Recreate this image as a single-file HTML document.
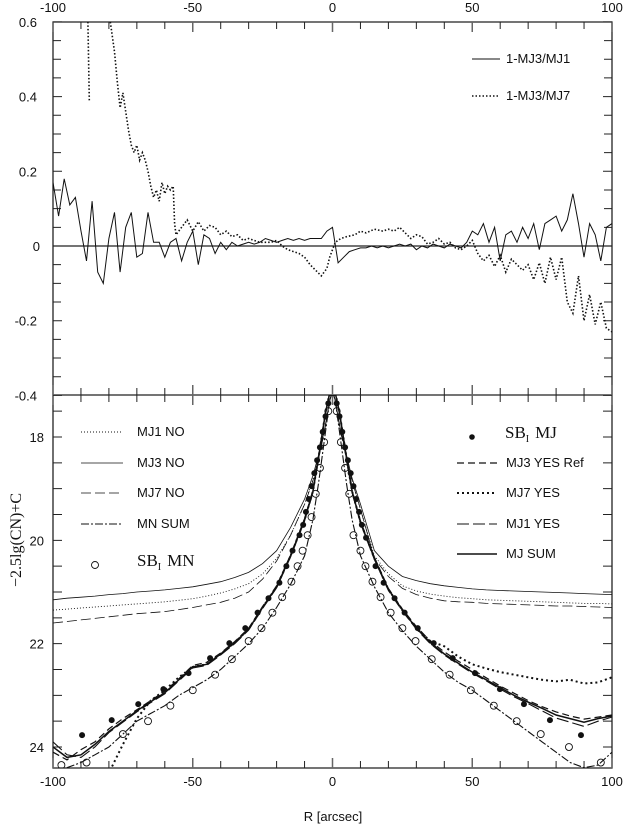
<!DOCTYPE html>
<html><head><meta charset="utf-8"><style>
html,body{margin:0;padding:0;background:#fff;}
svg{display:block;font-family:"Liberation Sans",sans-serif;}
.t{font-size:13px;fill:#111;}
</style></head><body>
<svg id="c" width="624" height="834" viewBox="0 0 624 834">
<defs><clipPath id="cpTop"><rect x="53" y="22" width="559" height="373"/></clipPath>
<clipPath id="cpBot"><rect x="53" y="395" width="559" height="373"/></clipPath></defs>
<g id="axes"></g>
<g id="topSeries" clip-path="url(#cpTop)"></g>
<g id="botSeries" clip-path="url(#cpBot)"></g>
<g id="legend"></g>
</svg>
<script>
// ---------- data ----------
const topTicksX = [-100,-50,0,50,100];
const topTicksY = [0.6,0.4,0.2,0,-0.2,-0.4];
const topTickLabels = ["0.6","0.4","0.2","0","-0.2","-0.4"];
const botTicksY = [18,20,22,24];
// 1-MJ3/MJ1, R from -100 to 100 step 2
const ratio1R = [];
for (let r=-100;r<=100;r+=2) ratio1R.push(r);
const ratio1 = [.17,.08,.18,.11,.13,.04,-.04,.12,-.07,-.1,.02,.09,-.07,.05,.09,-.03,-.02,.09,.01,.01,-.03,.01,.02,-.04,.01,.04,-.05,.03,.02,-.02,.01,-.01,.01,0,.005,.01,.005,.01,.02,.015,.01,.015,.02,.015,.02,.015,.02,.02,.02,.04,.05,-.045,-.03,-.015,-.01,-.005,-.005,0,-.005,0,-.005,0,.005,0,.005,-.01,0,-.005,.005,0,-.005,.005,0,-.005,.01,.04,.03,.06,.01,.05,-.04,.03,.04,.01,.05,.02,.06,-.01,.06,.07,.08,.04,.07,.14,.06,-.03,.06,.03,-.04,.05,.06];
// 1-MJ3/MJ7
const ratio7aR = [-87.5,-87];
const ratio7a = [0.6,0.39];
const ratio7bR = [-79.5,-78,-77,-76,-75,-74,-73,-72,-71,-70,-69,-68,-67,-66,-65,-64,-63,-62,-61,-60,-59,-58,-57,-56.5,-56,-54,-52,-50,-48,-46,-44,-42,-40,-38,-36,-34,-32,-30,-28,-26,-24,-22,-20,-18,-16,-14,-12,-10,-8,-6,-4,-2,-1,0,1,3,5,8,10,12,15,18,20,22,24,26,28,30,32,34,36,38,40,42,44,46,48,50,52,54,56,58,60,62,64,66,68,70,72,74,76,78,80,82,84,86,88,90,92,94,96,98,100];
const ratio7b = [.6,.52,.44,.37,.41,.36,.31,.27,.25,.27,.23,.25,.23,.2,.16,.13,.15,.12,.17,.14,.16,.15,.16,.06,.03,.05,.07,.04,.065,.04,.055,.05,.03,.04,.025,.03,.015,.02,.015,.01,.01,.01,.015,0,-.01,-.015,-.02,-.03,-.05,-.065,-.08,-.06,-.03,-.01,.01,.02,.025,.03,.04,.035,.045,.04,.045,.04,.05,.035,.02,.03,.025,.005,.01,.02,.005,.01,-.005,-.01,0,.015,-.02,-.04,-.025,-.055,-.025,-.07,-.035,-.05,-.065,-.05,-.09,-.045,-.1,-.03,-.09,-.03,-.15,-.18,-.08,-.2,-.13,-.21,-.15,-.22,-.23];
// bottom profiles common R grid
const profR = [-100,-95,-90,-85,-80,-75,-70,-65,-60,-55,-50,-45,-40,-35,-30,-25,-20,-15,-10,-7,-5,-3,-2,-1,0,1,2,3,5,7,10,15,20,25,30,35,40,45,50,55,60,65,70,75,80,85,90,95,100];
const mjSum  = [24.0,24.2,24.15,23.95,23.7,23.5,23.3,23.12,22.95,22.7,22.45,22.4,22.2,21.98,21.72,21.3,20.9,20.3,19.6,19.05,18.4,17.7,17.4,17.15,17.1,17.15,17.4,17.7,18.4,19.05,19.65,20.35,20.95,21.35,21.7,21.98,22.2,22.38,22.55,22.7,22.85,23.0,23.13,23.25,23.38,23.45,23.52,23.45,23.4];
const mj3Yes = [24.1,24.25,24.05,23.9,23.65,23.45,23.28,23.1,22.92,22.68,22.42,22.36,22.18,21.96,21.7,21.28,20.88,20.28,19.58,19.03,18.4,17.7,17.4,17.15,17.1,17.15,17.4,17.7,18.4,19.03,19.63,20.33,20.93,21.33,21.67,21.95,22.16,22.34,22.5,22.66,22.82,22.96,23.1,23.22,23.32,23.4,23.46,23.42,23.38];
const mj1Yes = [23.9,24.15,24.2,24.0,23.72,23.52,23.32,23.14,22.97,22.72,22.47,22.42,22.22,22.0,21.74,21.32,20.92,20.32,19.62,19.07,18.42,17.71,17.41,17.15,17.1,17.15,17.41,17.71,18.42,19.07,19.67,20.37,20.97,21.37,21.72,22.0,22.22,22.4,22.57,22.72,22.88,23.03,23.16,23.3,23.44,23.52,23.6,23.5,23.42];
const mj7Yes = [24.8,24.8,24.8,24.8,24.5,23.95,23.45,23.1,22.9,22.65,22.45,22.4,22.2,21.98,21.72,21.3,20.9,20.3,19.6,19.05,18.4,17.7,17.4,17.15,17.1,17.15,17.4,17.7,18.4,19.05,19.65,20.35,20.95,21.35,21.7,21.95,22.05,22.25,22.4,22.48,22.55,22.6,22.65,22.7,22.73,22.7,22.77,22.75,22.65];
const mnSum  = [24.45,24.4,24.3,24.15,24.0,23.75,23.5,23.35,23.2,23.0,22.85,22.7,22.5,22.25,22.0,21.7,21.3,20.85,20.3,19.6,18.9,18.1,17.7,17.3,17.1,17.3,17.7,18.1,18.9,19.6,20.3,20.9,21.4,21.75,22.05,22.3,22.55,22.75,22.9,23.1,23.3,23.5,23.7,23.9,24.1,24.3,24.4,24.35,24.1];
const mj3No  = [21.15,21.12,21.1,21.08,21.05,21.03,21.0,20.98,20.96,20.93,20.9,20.85,20.8,20.72,20.62,20.45,20.2,19.75,19.2,18.75,18.35,17.9,17.6,17.3,17.1,17.3,17.6,17.9,18.35,18.8,19.3,20.2,20.5,20.7,20.78,20.84,20.88,20.91,20.94,20.96,20.97,20.98,20.99,21.0,21.01,21.02,21.03,21.04,21.05];
const mj1No  = [21.35,21.33,21.31,21.29,21.27,21.25,21.23,21.21,21.19,21.16,21.13,21.08,21.02,20.94,20.84,20.65,20.35,19.9,19.3,18.82,18.4,17.92,17.62,17.3,17.1,17.3,17.62,17.92,18.4,18.85,19.4,20.3,20.65,20.88,20.98,21.04,21.08,21.11,21.13,21.15,21.16,21.17,21.18,21.19,21.2,21.21,21.22,21.22,21.23];
const mj7No  = [21.6,21.57,21.54,21.51,21.48,21.45,21.42,21.4,21.38,21.34,21.3,21.25,21.2,21.12,21.0,20.75,20.4,19.9,19.3,18.85,18.42,17.93,17.63,17.3,17.1,17.3,17.63,17.93,18.42,18.85,19.4,20.35,20.7,20.93,21.05,21.12,21.17,21.19,21.2,21.22,21.23,21.24,21.25,21.26,21.27,21.27,21.28,21.29,21.3];
// surface brightness points
const sbMjR = [-89.6,-79,-69.5,-60.5,-51.5,-43.8,-36.9,-31.2,-26.8,-22.9,-19,-16.5,-14.3,-11.8,-10.5,-9.5,-8.5,-7.5,-6.5,-5.5,-4.5,-3.5,-2.5,-1.5,-0.5,0.5,1.5,2.5,3.5,4.5,5.5,6.5,7.5,8.5,9.5,10.5,12,15.4,18.3,22.2,25.8,30.5,36.2,43,51,59.9,68.5,77.8,88.9];
const sbMj  = [23.77,23.48,23.17,22.88,22.57,22.28,21.99,21.7,21.4,21.12,20.82,20.5,20.2,19.9,19.7,19.45,19.2,18.95,18.7,18.45,18.2,17.9,17.6,17.35,17.15,17.15,17.35,17.6,17.9,18.2,18.45,18.7,18.95,19.2,19.45,19.7,19.95,20.5,20.82,21.12,21.4,21.7,21.99,22.28,22.57,22.88,23.17,23.48,23.77];
const sbMnR = [-97,-88,-75,-66,-58,-50,-42,-36,-30,-25.4,-21.5,-18,-14.7,-12.5,-10.7,-8.9,-7.5,-6,-4.5,-3,-1.5,1.5,3,4.5,6,7.5,10,11.8,14.3,17.2,20.8,25,29.7,35.5,41.9,49.5,57.7,65.9,74.5,84.6,96];
const sbMn  = [24.35,24.3,23.75,23.5,23.2,22.9,22.6,22.3,21.95,21.7,21.4,21.1,20.8,20.5,20.2,19.9,19.55,19.1,18.6,18.1,17.5,17.5,18.1,18.6,19.1,19.9,20.2,20.5,20.8,21.1,21.4,21.7,21.95,22.3,22.6,22.9,23.2,23.5,23.75,24.0,24.3];

// ---------- scales ----------
const X0=53, X1=612;
const xs = r => X0 + (r+100)/200*(X1-X0);
const ysTop = v => 246 - v*373.5;
const ysBot = m => 437 + (m-18)*51.67;
const NS="http://www.w3.org/2000/svg";
function mk(tag, attrs, parent){const e=document.createElementNS(NS,tag);for(const k in attrs)e.setAttribute(k,attrs[k]);parent.appendChild(e);return e;}
const axes=document.getElementById('axes');
const topG=document.getElementById('topSeries');
const botG=document.getElementById('botSeries');
const leg=document.getElementById('legend');
function path(R,V,ys){let d='';for(let i=0;i<R.length;i++){d+=(i?'L':'M')+xs(R[i]).toFixed(1)+' '+ys(V[i]).toFixed(1);}return d;}

// frame
let fr=mk('path',{d:`M${X0} 22 H${X1} V768 H${X0} Z M${X0} 395 H${X1}`,fill:'none',stroke:'#222','stroke-width':1.3},axes);


// x ticks
for(let r=-100;r<=100;r+=10){
  const x=xs(r), maj=r%50===0, L=maj?10:7;
  const tk=mk('path',{d:`M${x} 22 v${L} M${x} 395 v${-L} M${x} 395 v${L} M${x} 768 v${-L}`,stroke:maj?'#666':'#222','stroke-width':maj?1.5:1},axes);
  
  
}
topTicksX.forEach(r=>{
  const t1=mk('text',{x:xs(r),y:12,'text-anchor':'middle',class:'t'},axes);t1.textContent=r;
  
  
  const t2=mk('text',{x:xs(r),y:786,'text-anchor':'middle',class:'t'},axes);t2.textContent=r;
  
  
});
// top y ticks every 0.05
for(let i=0;i<=20;i++){const v=0.6-i*0.05,y=ysTop(v);const L=(i%4===0)?9:8;
  const tk=mk('path',{d:`M${X0} ${y} h${L} M${X1} ${y} h${-L}`,stroke:'#222','stroke-width':1},axes);
  
  }
topTicksY.forEach((v,i)=>{const t=mk('text',{x:37,y:ysTop(v)+5,'text-anchor':'end',class:'t'},axes);t.textContent=topTickLabels[i];
  if(v===0)t.setAttribute('x',40);
  
  });
// bottom y ticks every 0.5
for(let m=17.5;m<=24.25;m+=0.5){const y=ysBot(m);
  const tk=mk('path',{d:`M${X0} ${y} h9 M${X1} ${y} h-9`,stroke:'#222','stroke-width':1},axes);
  
  }
botTicksY.forEach(m=>{const t=mk('text',{x:44,y:ysBot(m)+5,'text-anchor':'end',class:'t'},axes);t.textContent=m;
  
  });
// zero line
const zl=mk('line',{x1:X0,x2:X1,y1:ysTop(0),y2:ysTop(0),stroke:'#222','stroke-width':1.2},axes);


// axis titles
const xt=mk('text',{x:333,y:821,'text-anchor':'middle',class:'t'},axes);xt.textContent='R [arcsec]';


const yt=mk('text',{x:0,y:0,'text-anchor':'middle',transform:'translate(21,540) rotate(-90)','font-family':'"Liberation Serif",serif','font-size':'16px',fill:'#111'},axes);
yt.textContent='\u22122.5lg(CN)+C';



// top series
const s1=mk('path',{d:path(ratio1R,ratio1,ysTop),fill:'none',stroke:'#111','stroke-width':1},topG);


const s7a=mk('path',{d:path(ratio7aR,ratio7a,ysTop),fill:'none',stroke:'#111','stroke-width':1.6,'stroke-dasharray':'1.5 2'},topG);


const s7b=mk('path',{d:path(ratio7bR,ratio7b,ysTop),fill:'none',stroke:'#111','stroke-width':1.6,'stroke-dasharray':'1.5 2'},topG);



// bottom series
const styles={
 mj3No:{sw:0.8,da:''}, mj1No:{sw:0.9,da:'1 2'}, mj7No:{sw:0.8,da:'10 4'},
 mnSum:{sw:1.1,da:'8 2 2 2'}, mjSum:{sw:1.5,da:''}, mj3Yes:{sw:1.2,da:'7 4'},
 mj1Yes:{sw:1.1,da:'12 4'}, mj7Yes:{sw:2,da:'2 3'}
};
const bdata={mj3No,mj1No,mj7No,mnSum,mjSum,mj3Yes,mj1Yes,mj7Yes};
const bnames={mj3No:'mj3-no-line',mj1No:'mj1-no-line',mj7No:'mj7-no-line',mnSum:'mn-sum-line',mjSum:'mj-sum-line',mj3Yes:'mj3-yes-ref-line',mj1Yes:'mj1-yes-line',mj7Yes:'mj7-yes-line'};
for(const k in bdata){const st=styles[k];
  const p=mk('path',{d:path(profR,bdata[k],ysBot),fill:'none',stroke:'#111','stroke-width':st.sw},botG);
  if(st.da)p.setAttribute('stroke-dasharray',st.da);
  
  }
sbMnR.forEach((r,i)=>{const c=mk('circle',{cx:xs(r),cy:ysBot(sbMn[i]),r:3.5,fill:'none',stroke:'#111','stroke-width':0.9},botG);
  
  });
sbMjR.forEach((r,i)=>{const c=mk('circle',{cx:xs(r),cy:ysBot(sbMj[i]),r:3,fill:'#111'},botG);
  
  });

// legends
function legLine(x1,x2,y,sw,da,tx,txt,name){
  const g=mk('g',{},leg);
  
  
  const l=mk('line',{x1:x1,x2:x2,y1:y,y2:y,stroke:'#111','stroke-width':sw},g);
  if(da)l.setAttribute('stroke-dasharray',da);
  const t=mk('text',{x:tx,y:y+4,class:'t'},g);t.textContent=txt;
}
legLine(472,500,59,1,'',506,'1-MJ3/MJ1','legend-mj3-mj1');
legLine(472,500,96,1.6,'1.5 2',506,'1-MJ3/MJ7','legend-mj3-mj7');
legLine(81,123,432,0.9,'1 2',137,'MJ1 NO','legend-mj1-no');
legLine(81,123,463,0.8,'',137,'MJ3 NO','legend-mj3-no');
legLine(81,123,493,0.8,'10 4',137,'MJ7 NO','legend-mj7-no');
legLine(81,123,524,1.1,'8 2 2 2',137,'MN SUM','legend-mn-sum');
legLine(457,497,463,1.2,'7 4',506,'MJ3 YES Ref','legend-mj3-yes-ref');
legLine(457,497,493,2,'2 3',506,'MJ7 YES','legend-mj7-yes');
legLine(457,497,524,1.1,'12 4',506,'MJ1 YES','legend-mj1-yes');
legLine(457,497,554,1.5,'',506,'MJ SUM','legend-mj-sum');
// SB legend entries
const g1=mk('g',{},leg);


mk('circle',{cx:95,cy:565,r:3.5,fill:'none',stroke:'#111','stroke-width':0.9},g1);
const tt1=mk('text',{x:137,y:566,'font-family':'"Liberation Serif",serif','font-size':'17px',fill:'#111'},g1);
tt1.innerHTML='SB<tspan font-size="10" dy="4">I</tspan><tspan dy="-4" dx="6">MN</tspan>';
const g2=mk('g',{},leg);


mk('circle',{cx:472,cy:437,r:2.8,fill:'#111'},g2);
const tt2=mk('text',{x:505,y:438,'font-family':'"Liberation Serif",serif','font-size':'17px',fill:'#111'},g2);
tt2.innerHTML='SB<tspan font-size="10" dy="4">I</tspan><tspan dy="-4" dx="6">MJ</tspan>';
</script>
</body></html>
